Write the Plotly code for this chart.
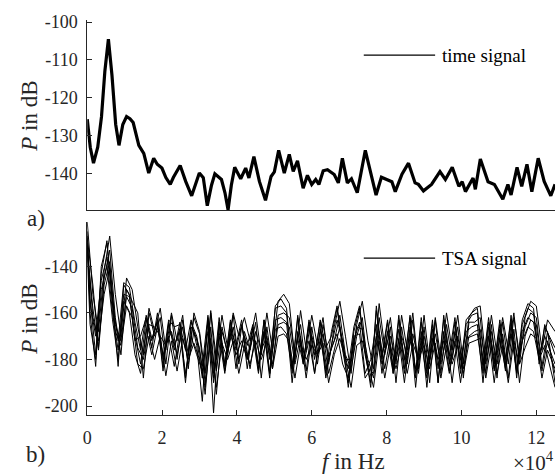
import plotly.graph_objects as go

W, H = 559, 475


def fx(p):
    return p / W


def fy(p):
    return 1 - p / H


# ---------------- data: a) time signal ----------------
TOP_F = [0, 800, 1670, 2800, 3800, 4700, 5650, 6600, 7600, 8480, 9500, 10500,
         11400, 12270, 13780, 15100, 16430, 17750, 18700, 19950, 21000, 22180,
         23000, 24830, 26300, 27900, 29950, 31000, 32070, 33200, 34100, 35860,
         36800, 37630, 38500, 39400, 41000, 42330, 43200, 44530, 46000, 47630,
         49120, 50000, 51150, 52650, 53980, 55040, 56180, 57690, 58830, 59980,
         61040, 61900, 63050, 64200, 66000, 67100, 68170, 69500, 70600, 72150,
         74300, 77180, 78600, 81400, 82300, 84100, 85840, 87600, 88500, 89840,
         92000, 94250, 95700, 97530, 99300, 100200, 101060, 103100, 103700,
         105040, 107100, 108800, 111050, 112400, 113250, 114850, 116100, 117500,
         118800, 120500, 122100, 123870, 125000]
TOP_P = [-125.6, -133.0, -137.2, -133.0, -125.0, -113.0, -104.5, -114.0, -127.0,
         -132.5, -127.0, -124.9, -125.5, -126.5, -132.5, -134.6, -139.8, -135.9,
         -137.5, -138.5, -141.0, -142.8, -141.0, -137.8, -142.0, -145.8, -139.8,
         -141.0, -148.4, -143.0, -140.0, -141.5, -145.0, -149.5, -143.0, -138.3,
         -141.3, -138.5, -141.1, -135.5, -142.0, -147.0, -140.7, -139.5, -133.8,
         -139.8, -134.9, -139.4, -136.6, -143.8, -140.4, -142.8, -141.5, -142.8,
         -139.2, -138.9, -140.2, -142.4, -135.9, -142.4, -141.3, -145.0, -133.8,
         -145.6, -140.9, -142.1, -144.7, -140.1, -137.2, -142.4, -142.8, -144.5,
         -142.8, -139.4, -141.5, -138.3, -143.3, -142.1, -144.7, -141.1, -144.1,
         -136.1, -142.1, -142.8, -146.7, -142.8, -145.6, -138.3, -143.3, -137.5,
         -144.7, -135.9, -142.0, -145.8, -142.8]

# ---------------- data: b) TSA signal ----------------
# frequency grids (Hz) for the two groups of averaged spectra
TSA_F_A = [0, 1500, 3000, 4500, 6000, 7500, 9000, 10500, 12000, 13500, 15000, 16500,
           18000, 19500, 21000, 22500, 24000, 25500, 27000, 28500, 30000, 31500, 33000, 34500,
           36000, 37500, 39000, 40500, 42000, 43500, 45000, 46500, 48000, 49500, 51000, 52500,
           54000, 55500, 57000, 58500, 60000, 61500, 63000, 64500, 66000, 67500, 69000, 70500,
           72000, 73500, 75000, 76500, 78000, 79500, 81000, 82500, 84000, 85500, 87000, 88500,
           90000, 91500, 93000, 94500, 96000, 97500, 99000, 100500, 102000, 103500, 105000, 106500,
           108000, 109500, 111000, 112500, 114000, 115500, 117000, 118500, 120000, 121500, 123000, 125000]
TSA_F_B = [0, 750, 2250, 3750, 5250, 6750, 8250, 9750, 11250, 12750, 14250, 15750,
           17250, 18750, 20250, 21750, 23250, 24750, 26250, 27750, 29250, 30750, 32250, 33750,
           35250, 36750, 38250, 39750, 41250, 42750, 44250, 45750, 47250, 48750, 50250, 51750,
           53250, 54750, 56250, 57750, 59250, 60750, 62250, 63750, 65250, 66750, 68250, 69750,
           71250, 72750, 74250, 75750, 77250, 78750, 80250, 81750, 83250, 84750, 86250, 87750,
           89250, 90750, 92250, 93750, 95250, 96750, 98250, 99750, 101250, 102750, 104250, 105750,
           107250, 108750, 110250, 111750, 113250, 114750, 116250, 117750, 119250, 120750, 122250, 125000]

TSA_1 = [-121, -152, -168, -142, -127, -152, -170, -145, -150, -166, -178, -158,
         -168, -158, -176, -160, -172, -161, -184, -160, -168, -186, -159, -180,
         -161, -175, -160, -170, -162, -172, -160, -178, -160, -176, -155, -152,
         -156, -180, -159, -176, -161, -174, -162, -182, -166, -155, -170, -186,
         -165, -155, -172, -184, -156, -175, -162, -182, -161, -176, -160, -184,
         -161, -182, -162, -180, -160, -176, -161, -182, -162, -158, -157, -180,
         -161, -178, -162, -176, -160, -182, -162, -155, -157, -176, -163, -168]
TSA_2 = [-125, -160, -183, -140, -130, -158, -183, -148, -152, -172, -170, -162,
         -175, -160, -180, -163, -166, -165, -176, -163, -174, -198, -162, -190,
         -164, -182, -163, -176, -165, -180, -166, -185, -163, -180, -158, -157,
         -160, -186, -162, -182, -164, -180, -163, -175, -170, -158, -176, -190,
         -168, -158, -178, -190, -159, -180, -164, -186, -163, -180, -162, -188,
         -164, -186, -165, -184, -163, -182, -164, -186, -165, -161, -160, -184,
         -164, -184, -165, -180, -163, -188, -165, -158, -160, -180, -166, -175]
TSA_3 = [-128, -148, -175, -145, -133, -162, -178, -150, -155, -160, -188, -160,
         -170, -162, -182, -161, -180, -163, -178, -162, -169, -190, -160, -185,
         -166, -178, -161, -182, -168, -176, -164, -188, -166, -184, -161, -160,
         -162, -178, -165, -185, -166, -182, -165, -179, -172, -161, -178, -184,
         -170, -162, -184, -186, -162, -178, -166, -190, -166, -182, -163, -186,
         -166, -190, -163, -186, -165, -180, -166, -188, -164, -164, -162, -186,
         -165, -188, -164, -182, -162, -178, -166, -160, -162, -183, -168, -190]
TSA_4 = [-130, -156, -170, -146, -136, -160, -176, -152, -153, -170, -182, -163,
         -172, -163, -185, -164, -176, -164, -188, -166, -171, -188, -163, -203,
         -165, -185, -167, -174, -163, -184, -167, -182, -168, -188, -163, -162,
         -164, -190, -168, -180, -166, -186, -167, -188, -174, -163, -172, -192,
         -172, -164, -186, -180, -165, -186, -168, -184, -167, -186, -166, -192,
         -168, -192, -167, -190, -168, -185, -168, -180, -168, -166, -165, -190,
         -166, -185, -167, -185, -165, -186, -168, -162, -164, -178, -170, -182]
TSA_5 = [-133, -158, -176, -148, -138, -165, -172, -153, -158, -175, -180, -165,
         -166, -170, -174, -168, -178, -166, -182, -168, -175, -195, -166, -195,
         -168, -177, -166, -180, -170, -184, -168, -176, -170, -182, -165, -164,
         -166, -182, -170, -188, -170, -178, -169, -186, -176, -166, -180, -180,
         -166, -167, -180, -188, -168, -184, -170, -180, -170, -178, -169, -180,
         -170, -180, -169, -182, -170, -190, -170, -184, -170, -168, -167, -182,
         -168, -182, -169, -188, -167, -190, -170, -163, -165, -185, -172, -186]
TSA_6 = [-135, -165, -180, -150, -140, -163, -180, -155, -160, -178, -186, -167,
         -178, -166, -178, -170, -183, -168, -186, -170, -178, -185, -168, -188,
         -170, -186, -169, -178, -172, -180, -170, -186, -168, -186, -167, -166,
         -169, -184, -171, -182, -172, -186, -171, -184, -175, -169, -182, -188,
         -170, -169, -188, -184, -170, -182, -172, -186, -171, -190, -170, -184,
         -172, -188, -171, -180, -172, -186, -172, -190, -171, -170, -169, -186,
         -170, -190, -171, -184, -169, -185, -172, -166, -168, -180, -174, -192]
TSA_7 = [-131, -162, -172, -152, -141, -168, -174, -157, -162, -182, -184, -170,
         -180, -170, -187, -172, -185, -171, -180, -173, -180, -192, -171, -192,
         -173, -180, -172, -186, -174, -182, -172, -180, -172, -184, -170, -169,
         -172, -188, -173, -180, -174, -178, -173, -190, -178, -171, -180, -192,
         -174, -172, -182, -192, -172, -188, -174, -184, -173, -186, -173, -180,
         -174, -184, -173, -188, -174, -182, -174, -186, -173, -172, -171, -188,
         -173, -186, -174, -190, -172, -182, -175, -169, -171, -188, -176, -184]
TSA_8 = [-127, -154, -178, -143, -129, -155, -172, -147, -149, -164, -176, -161,
         -171, -164, -183, -165, -174, -167, -190, -164, -170, -183, -161, -186,
         -162, -183, -164, -184, -166, -174, -165, -184, -163, -186, -157, -154,
         -158, -184, -161, -182, -163, -178, -164, -186, -168, -157, -174, -184,
         -166, -157, -176, -192, -157, -178, -163, -184, -161, -184, -161, -186,
         -162, -184, -163, -190, -161, -178, -162, -184, -163, -160, -158, -182,
         -162, -182, -163, -182, -161, -184, -163, -156, -158, -182, -165, -178]
# (grid, values) pairs: alternate series use the half-bin shifted grid
TSA_SERIES = [(TSA_F_A, TSA_1), (TSA_F_B, TSA_2), (TSA_F_A, TSA_3), (TSA_F_B, TSA_4),
              (TSA_F_A, TSA_5), (TSA_F_B, TSA_6), (TSA_F_A, TSA_7), (TSA_F_B, TSA_8)]

# ---------------- ticks / labels ----------------
X_TICK_VALS = [0, 20000, 40000, 60000, 80000, 100000, 120000]
X_TICK_TEXT = ["0", "2", "4", "6", "8", "10", "12"]
TOP_Y_TICKS = [-140, -130, -120, -110, -100]
BOT_Y_TICKS = [-200, -180, -160, -140]
TOP_Y_TEXT = ["-140", "-130", "-120", "-110", "-100"]
BOT_Y_TEXT = ["-200", "-180", "-160", "-140"]
LEGEND_TOP = "time signal"
LEGEND_BOT = "TSA signal"

FONT = "Liberation Serif, Times New Roman, Tinos, DejaVu Serif, serif"
AX_COL = "#262626"

fig = go.Figure()
fig.add_trace(go.Scatter(x=TOP_F, y=TOP_P, mode="lines", name=LEGEND_TOP,
                         line=dict(color="black", width=3.2),
                         xaxis="x", yaxis="y", showlegend=False))
for grid, s in TSA_SERIES:
    fig.add_trace(go.Scatter(x=grid, y=s, mode="lines", name=LEGEND_BOT,
                             line=dict(color="black", width=1),
                             xaxis="x2", yaxis="y2", showlegend=False))

xdom = [fx(83), fx(555)]
common_x = dict(range=[0, 125000], showline=True, linecolor=AX_COL, linewidth=1,
                showgrid=False, zeroline=False, mirror=False)
tickfont = dict(family=FONT, size=18, color=AX_COL)
fig.update_layout(
    width=W, height=H,
    margin=dict(l=0, r=0, t=0, b=0),
    paper_bgcolor="white", plot_bgcolor="white",
    font=dict(family=FONT, size=18, color=AX_COL),
    xaxis=dict(domain=xdom, anchor="y", showticklabels=False, ticks="", **common_x),
    yaxis=dict(domain=[fy(206), fy(12.5)], anchor="x", range=[-149.57, -99.53],
               tickvals=TOP_Y_TICKS, ticktext=TOP_Y_TEXT, ticks="inside", ticklen=5,
               tickcolor=AX_COL, showline=True, linecolor=AX_COL, linewidth=1,
               showgrid=False, zeroline=False, ticklabelstandoff=5, tickfont=tickfont),
    xaxis2=dict(domain=xdom, anchor="y2", tickvals=X_TICK_VALS, ticktext=X_TICK_TEXT,
                ticks="inside", ticklen=5, tickcolor=AX_COL, ticklabelstandoff=6,
                tickfont=tickfont, **common_x),
    yaxis2=dict(domain=[fy(415), fy(218)], anchor="x2", range=[-203.92, -120.91],
                tickvals=BOT_Y_TICKS, ticktext=BOT_Y_TEXT, ticks="inside", ticklen=5,
                tickcolor=AX_COL, showline=True, linecolor=AX_COL, linewidth=1,
                showgrid=False, zeroline=False, ticklabelstandoff=5, tickfont=tickfont),
    showlegend=False,
)

# legend samples (line + text)
for y_px, label in [(48, LEGEND_TOP), (255, LEGEND_BOT)]:
    fig.add_shape(type="line", xref="paper", yref="paper",
                  x0=fx(362), x1=fx(434), y0=fy(y_px), y1=fy(y_px),
                  line=dict(color="black", width=1.2))
    fig.add_annotation(xref="paper", yref="paper", x=fx(439), y=fy(y_px),
                       text=label, showarrow=False, xanchor="left", yanchor="middle",
                       font=dict(family=FONT, size=19, color="black"))

annos = [
    dict(x=fx(25), y=fy(110), text="<i>P</i> in dB", textangle=-90),
    dict(x=fx(25), y=fy(317), text="<i>P</i> in dB", textangle=-90),
    dict(x=fx(352), y=fy(462), text="<i>f</i> in Hz"),
    dict(x=fx(31), y=fy(215), text="a)"),
    dict(x=fx(31), y=fy(455), text="b)"),
]
for a in annos:
    a.setdefault("xanchor", "center")
    fig.add_annotation(xref="paper", yref="paper", showarrow=False, yanchor="middle",
                       font=dict(family=FONT, size=23, color=AX_COL), **a)
fig.add_annotation(xref="paper", yref="paper", showarrow=False, x=fx(556), y=fy(462),
                   xanchor="right", yanchor="middle", text="×10<sup>4</sup>",
                   font=dict(family=FONT, size=21, color=AX_COL))

fig.write_html("out.html")
